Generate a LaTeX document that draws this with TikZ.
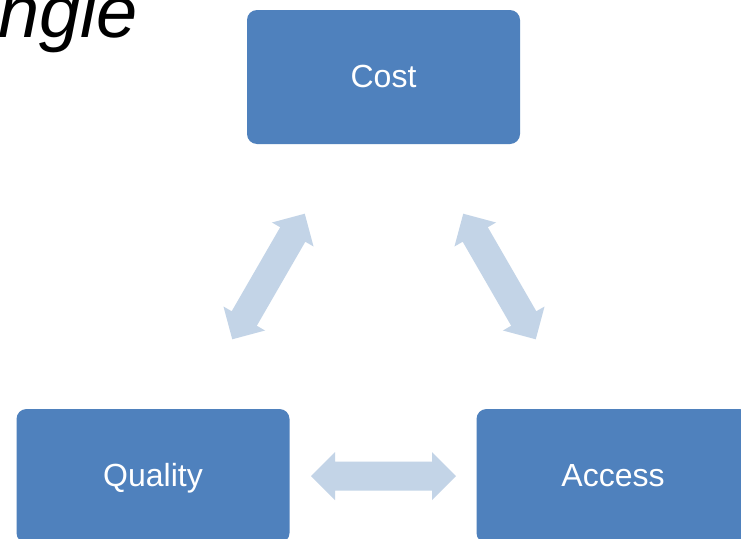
\documentclass[tikz,border=0pt]{standalone}
\usepackage{fontspec}
\setmainfont{Liberation Sans}
\definecolor{boxblue}{RGB}{79,129,189}
\definecolor{arrowblue}{RGB}{195,212,231}
\tikzset{
  box/.style={rectangle, rounded corners=10pt, fill=boxblue, draw=none,
    minimum width=273pt, minimum height=134pt, inner sep=0pt,
    text height=21pt, text depth=0pt,
    text=white, font=\fontsize{32}{38}\selectfont},
  dblarrow/.pic={
    \fill[arrowblue] (-72.5,0) -- (-48.5,24) -- (-48.5,14.5) -- (48.5,14.5)
      -- (48.5,24) -- (72.5,0) -- (48.5,-24) -- (48.5,-14.5)
      -- (-48.5,-14.5) -- (-48.5,-24) -- cycle;
  }
}
\begin{document}
\begin{tikzpicture}[x=1pt,y=-1pt]
\useasboundingbox (0,0) rectangle (741,538);
\fill[white] (0,0) rectangle (741,538);
\node[anchor=base west, inner sep=0pt, font=\fontsize{74}{80}\selectfont\itshape] (title) at (-2,37) {ngle};
\node[box] (cost) at (383.5,77) {Cost};
\node[box] (quality) at (153,476) {Quality};
\node[box] (access) at (613,476) {Access};
\pic[rotate=60] at (268.5,276.5) {dblarrow};
\pic[rotate=-60] at (499.5,276.5) {dblarrow};
\pic at (383.5,476) {dblarrow};
\end{tikzpicture}
\end{document}
